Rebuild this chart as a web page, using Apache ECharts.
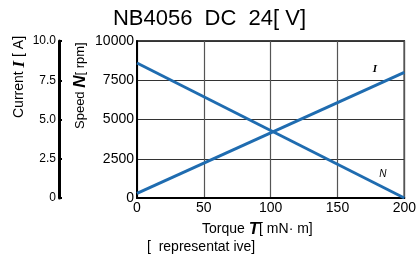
<!DOCTYPE html>
<html>
<head>
<meta charset="utf-8">
<script src="https://cdn.jsdelivr.net/npm/echarts@6/dist/echarts.min.js"></script>
<style>
  html, body { margin: 0; padding: 0; background: #fff; }
  #chart { width: 419px; height: 264px; }
</style>
</head>
<body>
<div id="chart"></div>
<script>
// torque [mN·m]
var torque = [0, 200];
// speed [rpm]
var speed = [8600, 0];
// current [A]
var current = [0.3, 8.0];

var myChart = echarts.init(document.getElementById('chart'));
var font = 'Liberation Sans, Arial, sans-serif';

var option = {
    animation: false,
    title: {
        text: 'NB4056  DC  24[ V]',
        left: 'center',
        top: 3,
        textStyle: { fontFamily: font, fontWeight: 'normal', fontSize: 22, color: '#000' }
    },
    grid: {
        left: 137, right: 13, top: 41, bottom: 66,
        show: true, borderColor: '#000', borderWidth: 1.5
    },
    xAxis: {
        type: 'value', min: 0, max: 200, interval: 50,
        axisLine: { lineStyle: { color: '#000', width: 2 } },
        axisTick: { show: false },
        axisLabel: { color: '#000', fontFamily: font, fontSize: 14, margin: 3 },
        splitLine: { lineStyle: { color: '#555', width: 1.2 } }
    },
    yAxis: [{
        type: 'value', min: 0, max: 10000, interval: 2500,
        axisLine: { show: true, lineStyle: { color: '#000', width: 2 } },
        axisTick: { show: false },
        axisLabel: {
            color: '#000', fontFamily: font, fontSize: 14, margin: 3,
            formatter: function (v) { return String(v); }
        },
        splitLine: { lineStyle: { color: '#333', width: 1.2 } }
    }, {
        type: 'value', min: 0, max: 10, interval: 2.5, position: 'left', offset: 78,
        axisLine: { show: true, lineStyle: { color: '#000', width: 3 } },
        axisTick: { show: true, inside: true, length: 3, lineStyle: { color: '#000', width: 2 } },
        axisLabel: {
            color: '#000', fontFamily: font, fontSize: 12, margin: 3,
            formatter: function (v) { return v === 0 ? '0' : v.toFixed(1); }
        },
        splitLine: { show: false }
    }],
    series: [{
        type: 'line', yAxisIndex: 0, symbol: 'none',
        data: torque.map(function (t, i) { return [t, speed[i]]; }),
        lineStyle: { color: '#1f6cb0', width: 3 },
        markPoint: {
            symbolSize: 0,
            label: { show: true, formatter: 'N', color: '#000', fontStyle: 'italic', fontSize: 10, fontFamily: font },
            data: [{ coord: [184, 1500] }]
        }
    }, {
        type: 'line', yAxisIndex: 1, symbol: 'none',
        data: torque.map(function (t, i) { return [t, current[i]]; }),
        lineStyle: { color: '#1f6cb0', width: 3 },
        markPoint: {
            symbolSize: 0,
            label: { show: true, formatter: 'I', color: '#000', fontStyle: 'italic', fontWeight: 'bold', fontSize: 11, fontFamily: 'Liberation Serif, serif' },
            data: [{ coord: [178, 8.2] }]
        }
    }],
    graphic: [{
        type: 'text',
        position: [11, 118],
        rotation: Math.PI / 2,
        style: {
            text: '{a|Current }{b|I}{a| [ A]}',
            rich: {
                a: { fontFamily: font, fontSize: 14, fill: '#000' },
                b: { fontFamily: 'Liberation Serif, serif', fontStyle: 'italic', fontWeight: 'bold', fontSize: 17, fill: '#000' }
            }
        }
    }, {
        type: 'text',
        position: [72, 129],
        rotation: Math.PI / 2,
        style: {
            text: '{a|Speed }{b|N}{a|[ rpm]}',
            rich: {
                a: { fontFamily: font, fontSize: 13, fill: '#000' },
                b: { fontFamily: font, fontStyle: 'italic', fontWeight: 'bold', fontSize: 17, fill: '#000' }
            }
        }
    }, {
        type: 'text',
        position: [202, 221],
        style: {
            text: '{a|Torque }{b|T}{a|[ mN· m]}',
            rich: {
                a: { fontFamily: font, fontSize: 14, fill: '#000' },
                b: { fontFamily: font, fontStyle: 'italic', fontWeight: 'bold', fontSize: 17, fill: '#000' }
            }
        }
    }, {
        type: 'text',
        position: [147, 240],
        style: { text: '[  representat ive]', fontFamily: font, fontSize: 14, fill: '#000' }
    }]
};

myChart.setOption(option);
</script>
</body>
</html>
